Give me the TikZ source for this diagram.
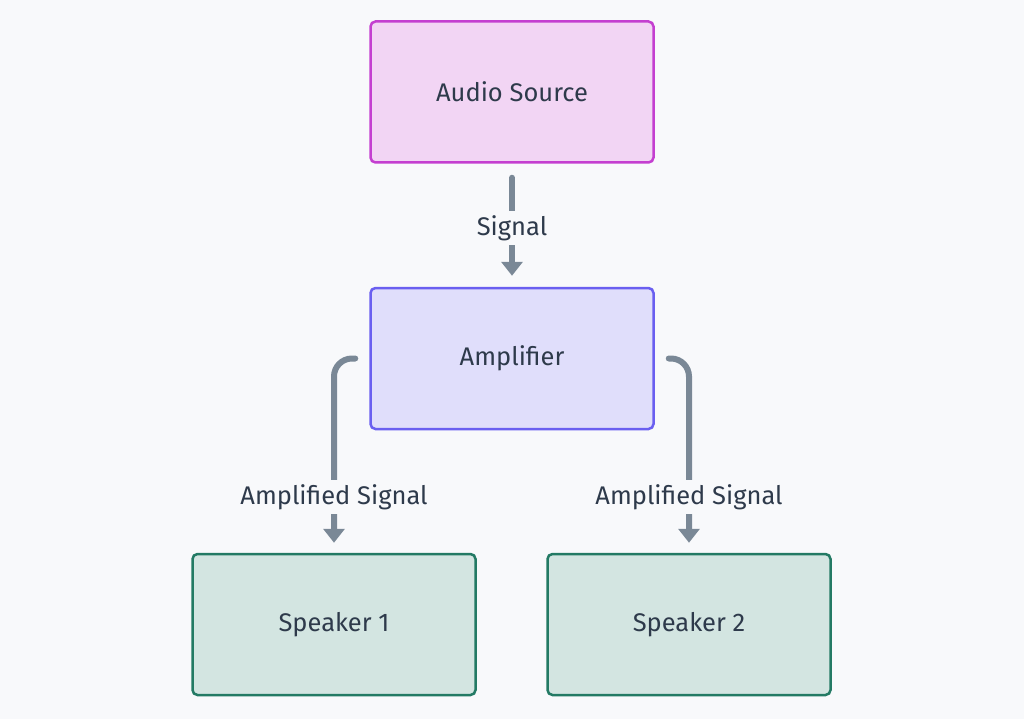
\documentclass[tikz,border=0pt]{standalone}
\usepackage{fontspec}
\setmainfont{Fira Sans}
\usetikzlibrary{arrows.meta}
\definecolor{bg}{HTML}{F8F9FB}
\definecolor{txt}{HTML}{2E3A4B}
\definecolor{ln}{HTML}{7A8896}
\definecolor{srcfill}{HTML}{F2D5F4}
\definecolor{srcdraw}{HTML}{C43FD0}
\definecolor{ampfill}{HTML}{E0DEFB}
\definecolor{ampdraw}{HTML}{6A5FF0}
\definecolor{spkfill}{HTML}{D3E5E1}
\definecolor{spkdraw}{HTML}{237A64}
\tikzset{
  box/.style={rectangle, rounded corners=5pt, line width=2.5pt, minimum width=283pt, minimum height=141pt, text=txt, font=\fontsize{25.5}{30}\selectfont},
  src/.style={box, fill=srcfill, draw=srcdraw},
  amp/.style={box, fill=ampfill, draw=ampdraw},
  spk/.style={box, fill=spkfill, draw=spkdraw},
  conn/.style={draw=ln, line width=6pt, line cap=round, rounded corners=18pt, -{Triangle[length=14pt,width=21pt]}},
  lbl/.style={fill=bg, text=txt, inner sep=4pt, font=\fontsize{25.5}{30}\selectfont}
}
\begin{document}
\begin{tikzpicture}[x=1pt,y=-1pt]
\fill[bg] (0,0) rectangle (1024,719);
\useasboundingbox (0,0) rectangle (1024,719);
\node[src] (s) at (512,92) {Audio Source};
\node[amp] (a) at (512,358.5) {Amplifier};
\node[spk] (p1) at (334,624.5) {Speaker 1};
\node[spk] (p2) at (689,624.5) {Speaker 2};
\draw[conn, shorten <=14pt, shorten >=11pt] (s.south) -- (a.north);
\draw[conn, shorten <=14pt, shorten >=10pt] (a.west) -| (p1.north);
\draw[conn, shorten <=14pt, shorten >=10pt] (a.east) -| (p2.north);
\node[lbl] (l0) at (512,228) {Signal};
\node[lbl] (l1) at (334,497) {Amplified Signal};
\node[lbl] (l2) at (689,497) {Amplified Signal};
\end{tikzpicture}
\end{document}
